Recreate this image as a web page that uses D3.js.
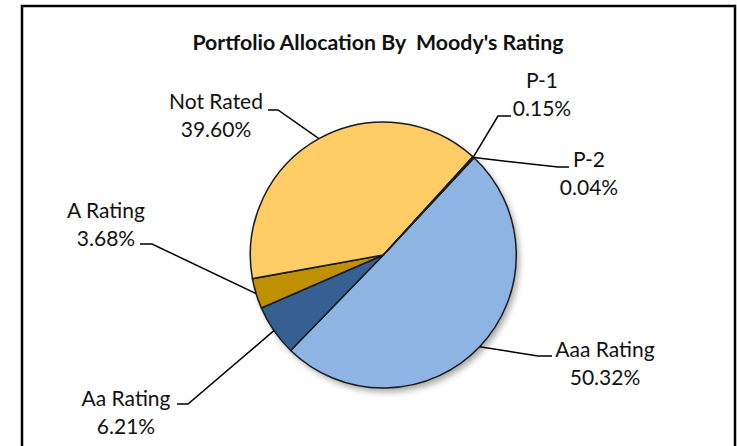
<!DOCTYPE html>
<html>
<head>
<meta charset="utf-8">
<script src="https://cdn.jsdelivr.net/npm/d3@7"></script>
<style>
  body { margin: 0; background: #fff; }
  svg text { font-family: Lato, "Open Sans", sans-serif; fill: #111; }
</style>
</head>
<body>
<div id="chart"></div>
<script>
var CATEGORIES = ['Aaa Rating', 'Aa Rating', 'A Rating', 'Not Rated', 'P-1', 'P-2'];
var VALUES = [50.32, 6.21, 3.68, 39.60, 0.15, 0.04];
var LABELS = ['50.32%', '6.21%', '3.68%', '39.60%', '0.15%', '0.04%'];
var TITLE = "Portfolio Allocation By\u00a0 Moody's Rating";

var COLORS = ['#8EB4E3', '#366092', '#BF9000', '#FFCC66', '#E46C0A', '#77933C'];

// label placement (excel "best fit" positions), text centre x / first baseline,
// elbow = where the leader bends, tip = leader end beside the text
var LAYOUT = {
    'Aaa Rating': {x: 605, y: 357, elbow: [538, 356], tip: [552, 356]},
    'Aa Rating':  {x: 126, y: 406, elbow: [188, 404], tip: [177, 404]},
    'A Rating':   {x: 106, y: 218, elbow: [152, 244], tip: [140, 244]},
    'Not Rated':  {x: 216, y: 109, elbow: [278, 110], tip: [268, 110]},
    'P-1':        {x: 542, y: 88,  elbow: [498, 116], tip: [511, 116]},
    'P-2':        {x: 589, y: 167, elbow: [558, 167], tip: [569, 167]}
};

var W = 737, H = 446;
var cx = 383.3, cy = 255, radius = 133;
var startDeg = 43;

var svg = d3.select('#chart').append('svg')
    .attr('width', W).attr('height', H);

svg.append('rect')
    .attr('x', 22).attr('y', 6)
    .attr('width', 713).attr('height', 470)
    .attr('fill', '#fff')
    .attr('stroke', '#000')
    .attr('stroke-width', 2.5);

var defs = svg.append('defs');
var shadow = defs.append('filter').attr('id', 'pieShadow')
    .attr('x', '-20%').attr('y', '-20%').attr('width', '140%').attr('height', '140%');
shadow.append('feDropShadow')
    .attr('dx', 3).attr('dy', 4)
    .attr('stdDeviation', 3)
    .attr('flood-color', '#000')
    .attr('flood-opacity', 0.35);

svg.append('text')
    .attr('x', 378).attr('y', 50)
    .attr('text-anchor', 'middle')
    .attr('font-weight', 'bold')
    .attr('font-size', 21.3)
    .text(TITLE);

var pieData = d3.pie()
    .sort(null)
    .value(function(d){ return d.value; })
    .startAngle(startDeg * Math.PI / 180)
    .endAngle(startDeg * Math.PI / 180 + 2 * Math.PI)
    (CATEGORIES.map(function(c, i){ return {name: c, value: VALUES[i], label: LABELS[i], color: COLORS[i]}; }));

var arc = d3.arc().innerRadius(0).outerRadius(radius);
var edge = d3.arc().innerRadius(radius).outerRadius(radius);

var g = svg.append('g').attr('transform', 'translate(' + cx + ',' + cy + ')');

g.append('circle')
    .attr('r', radius)
    .attr('fill', '#fff')
    .attr('filter', 'url(#pieShadow)');

g.selectAll('path.slice')
    .data(pieData)
    .enter().append('path')
        .attr('class', 'slice')
        .attr('d', arc)
        .attr('fill', function(d){ return d.data.color; })
        .attr('stroke', '#1a1a1a')
        .attr('stroke-width', 1.5)
        .attr('stroke-linejoin', 'round');

// leader lines
svg.selectAll('polyline.leader')
    .data(pieData)
    .enter().append('polyline')
        .attr('class', 'leader')
        .attr('fill', 'none')
        .attr('stroke', '#000')
        .attr('stroke-width', 1.5)
        .attr('points', function(d){
            var lay = LAYOUT[d.data.name];
            var c = edge.centroid(d);
            var a = [cx + c[0], cy + c[1]];
            return [a, lay.elbow, lay.tip].map(function(p){ return p.join(','); }).join(' ');
        });

var labels = svg.selectAll('text.lbl')
    .data(pieData)
    .enter().append('text')
        .attr('class', 'lbl')
        .attr('text-anchor', 'middle')
        .attr('font-size', 21)
        .attr('x', function(d){ return LAYOUT[d.data.name].x; })
        .attr('y', function(d){ return LAYOUT[d.data.name].y; });

labels.append('tspan')
    .attr('x', function(d){ return LAYOUT[d.data.name].x; })
    .text(function(d){ return d.data.name; });
labels.append('tspan')
    .attr('x', function(d){ return LAYOUT[d.data.name].x; })
    .attr('dy', 28)
    .text(function(d){ return d.data.label; });
</script>
</body>
</html>
